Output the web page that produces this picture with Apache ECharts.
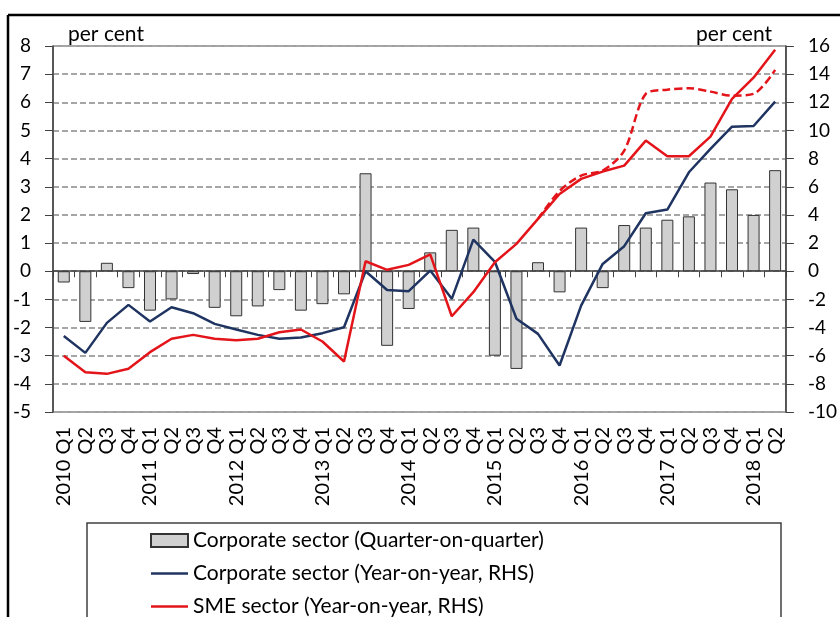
<!DOCTYPE html>
<html>
<head>
<meta charset="utf-8">
<script src="https://cdn.jsdelivr.net/npm/echarts@6/dist/echarts.min.js"></script>
<style>
  html, body { margin: 0; padding: 0; background: #fff; }
  #chart { width: 840px; height: 617px; }
</style>
</head>
<body>
<div id="chart"></div>
<script>
// quarters on the x axis
const quarters = [
  '2010 Q1', 'Q2', 'Q3', 'Q4',
  '2011 Q1', 'Q2', 'Q3', 'Q4',
  '2012 Q1', 'Q2', 'Q3', 'Q4',
  '2013 Q1', 'Q2', 'Q3', 'Q4',
  '2014 Q1', 'Q2', 'Q3', 'Q4',
  '2015 Q1', 'Q2', 'Q3', 'Q4',
  '2016 Q1', 'Q2', 'Q3', 'Q4',
  '2017 Q1', 'Q2', 'Q3', 'Q4',
  '2018 Q1', 'Q2'
]
// corporate sector, quarter-on-quarter (left axis)
const corpQoq = [
  -0.4, -1.8, 0.3, -0.6,
  -1.4, -1.0, -0.1, -1.3,
  -1.6, -1.25, -0.67, -1.4,
  -1.17, -0.82, 3.48, -2.65,
  -1.34, 0.67, 1.47, 1.55,
  -3.0, -3.47, 0.32, -0.75,
  1.55, -0.6, 1.64, 1.55,
  1.83, 1.95, 3.15, 2.91,
  2.0, 3.59
]
// corporate sector, year-on-year (right axis)
const corpYoy = [
  -4.6, -5.8, -3.67, -2.39,
  -3.57, -2.56, -2.98, -3.74,
  -4.14, -4.52, -4.8, -4.71,
  -4.4, -3.98, 0, -1.33,
  -1.42, 0.05, -1.96, 2.25,
  0.67, -3.38, -4.45, -6.7,
  -2.44, 0.52, 1.78, 4.12,
  4.38, 7.03, 8.69, 10.27,
  10.32, 12.05
]
// SME sector, year-on-year (right axis)
const smeYoy = [
  -6.0, -7.17, -7.29, -6.93,
  -5.75, -4.8, -4.52, -4.8,
  -4.9, -4.8, -4.33, -4.14,
  -4.99, -6.41, 0.71, 0.1,
  0.45, 1.2, -3.2, -1.49,
  0.64, 1.94, 3.72, 5.49,
  6.56, 7.08, 7.5, 9.28,
  8.17, 8.17, 9.56, 12.24,
  13.75, 15.74
]
// SME sector alternative (dashed), starts at 2015 Q3
const smeAltStart = 22
const smeAlt = [3.72, 5.7, 6.8, 7.15, 8.57, 12.6, 12.9, 13.0, 12.76, 12.47, 12.6, 14.3]

const leftTicks = { min: -5, max: 8, interval: 1 }
const rightTicks = { min: -10, max: 16, interval: 2 }

const font = 'Lato, "Open Sans", sans-serif'
const axisColor = '#404040'
const navy = '#1f3461'
const red = '#e3151a'
// thin bar used as legend icon for the line series
const lineIcon = 'path://M0,0 L36,0 L36,2.5 L0,2.5 Z'

const smeAltData = quarters.map((q, i) => (i >= smeAltStart ? smeAlt[i - smeAltStart] : null))

const myChart = echarts.init(document.getElementById('chart'))

const option = {
  animation: false,
  textStyle: { fontFamily: font },
  grid: {
    left: 53, right: 53, top: 46, bottom: 205,
    show: true, borderColor: axisColor, borderWidth: 1
  },
  legend: {
    orient: 'vertical',
    left: 150,
    top: 530,
    height: 200,
    padding: 0,
    itemWidth: 37,
    itemHeight: 13,
    itemGap: 12,
    textStyle: { fontSize: 21, color: '#000', fontFamily: font },
    data: [
      { name: 'Corporate sector (Quarter-on-quarter)', icon: 'rect' },
      { name: 'Corporate sector (Year-on-year, RHS)', icon: lineIcon },
      { name: 'SME sector (Year-on-year, RHS)', icon: lineIcon }
    ]
  },
  graphic: [
    // outer frame (top and left edges)
    { type: 'line', shape: { x1: 8, y1: 15, x2: 840, y2: 15 }, style: { stroke: '#000', lineWidth: 2.5 } },
    { type: 'line', shape: { x1: 8, y1: 15, x2: 8, y2: 617 }, style: { stroke: '#000', lineWidth: 2.5 } },
    // legend box
    { type: 'rect', shape: { x: 87, y: 523, width: 694, height: 130 }, style: { fill: 'none', stroke: axisColor, lineWidth: 1.5 }, z: -1 },
    { type: 'text', left: 68, top: 24, style: { text: 'per cent', fontSize: 21, fontFamily: font, fill: '#000' } },
    { type: 'text', right: 68, top: 24, style: { text: 'per cent', fontSize: 21, fontFamily: font, fill: '#000' } }
  ],
  xAxis: [
    {
      type: 'category',
      data: quarters,
      axisLine: { onZero: true, lineStyle: { color: axisColor, width: 1.5 } },
      axisTick: { show: true, interval: 0, length: 6, lineStyle: { color: axisColor } },
      axisLabel: { show: false }
    },
    {
      type: 'category',
      data: quarters,
      position: 'bottom',
      axisLine: { show: false, onZero: false },
      axisTick: { show: false },
      axisLabel: { interval: 0, rotate: 90, margin: 15, fontSize: 20, color: '#000', fontFamily: font }
    }
  ],
  yAxis: [
    {
      type: 'value',
      min: leftTicks.min, max: leftTicks.max, interval: leftTicks.interval,
      position: 'left',
      axisLine: { show: true, lineStyle: { color: axisColor, width: 1.5 } },
      axisTick: { show: true, length: 8, lineStyle: { color: axisColor } },
      axisLabel: { margin: 22, fontSize: 19, color: '#000', fontFamily: font },
      splitLine: { show: true, lineStyle: { color: '#a6a6a6', width: 2, type: [6, 3] } }
    },
    {
      type: 'value',
      min: rightTicks.min, max: rightTicks.max, interval: rightTicks.interval,
      position: 'right',
      axisLine: { show: true, lineStyle: { color: axisColor, width: 1.5 } },
      axisTick: { show: true, length: 8, lineStyle: { color: axisColor } },
      axisLabel: { margin: 22, fontSize: 19, color: '#000', fontFamily: font },
      splitLine: { show: false }
    }
  ],
  series: [
    {
      name: 'Corporate sector (Quarter-on-quarter)',
      type: 'bar',
      data: corpQoq,
      barWidth: 12,
      itemStyle: { color: '#d0d0d0', borderColor: '#333', borderWidth: 1 }
    },
    {
      name: 'Corporate sector (Year-on-year, RHS)',
      type: 'line',
      yAxisIndex: 1,
      data: corpYoy,
      symbol: 'none',
      lineStyle: { color: navy, width: 2.5 },
      itemStyle: { color: navy }
    },
    {
      name: 'SME sector (Year-on-year, RHS)',
      type: 'line',
      yAxisIndex: 1,
      data: smeYoy,
      symbol: 'none',
      lineStyle: { color: red, width: 2.5 },
      itemStyle: { color: red },
      z: 3
    },
    {
      name: 'SME alternative',
      type: 'line',
      yAxisIndex: 1,
      data: smeAltData,
      symbol: 'none',
      smooth: 0.3,
      lineStyle: { color: red, width: 2.5, type: [8, 4] },
      itemStyle: { color: red },
      z: 3
    }
  ]
}

myChart.setOption(option)
</script>
</body>
</html>
